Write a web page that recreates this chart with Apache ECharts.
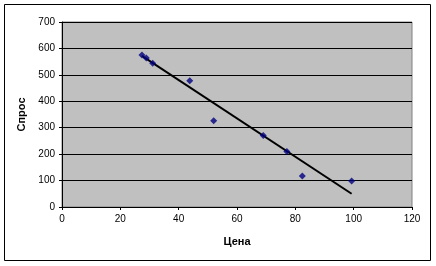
<!DOCTYPE html>
<html><head><meta charset="utf-8">
<script src="https://cdn.jsdelivr.net/npm/echarts@6/dist/echarts.min.js"></script>
<style>html,body{margin:0;padding:0;background:#fff}#c{width:436px;height:266px}</style>
</head><body><div id="c"></div>
<script>
const price = [27.4, 28.9, 31.1, 43.8, 52.0, 69.0, 77.1, 82.4, 99.3];
const demand = [575, 564, 544, 478, 326, 271, 210, 117, 98];
const trendX = [27.4, 99.3];
const trendY = [572, 50];
const xTicks = [0, 20, 40, 60, 80, 100, 120];
const yTicks = [0, 100, 200, 300, 400, 500, 600, 700];

const chart = echarts.init(document.getElementById('c'), null, {renderer: 'canvas'});
const font = 'Liberation Sans, Arial, sans-serif';
chart.setOption({
  animation: false,
  backgroundColor: '#fff',
  graphic: [{type: 'rect', shape: {x: 4.5, y: 4.5, width: 426, height: 256}, style: {fill: 'none', stroke: '#000', lineWidth: 1}, z: -1}],
  grid: {left: 62, top: 22, right: 24, bottom: 59, show: true, backgroundColor: '#C0C0C0', borderColor: '#808080', borderWidth: 1},
  xAxis: {
    type: 'value', min: 0, max: 120, interval: 20,
    name: 'Цена', nameLocation: 'middle', nameGap: 29,
    nameTextStyle: {fontFamily: font, fontSize: 11, fontWeight: 'bold', color: '#000'},
    axisLine: {show: true, onZero: false, lineStyle: {color: '#000', width: 1}},
    axisTick: {show: true, length: 3, lineStyle: {color: '#000'}},
    axisLabel: {fontFamily: font, fontSize: 10, color: '#000', margin: 7},
    splitLine: {show: false}
  },
  yAxis: {
    type: 'value', min: 0, max: 700, interval: 100,
    name: 'Спрос', nameLocation: 'middle', nameGap: 33,
    nameTextStyle: {fontFamily: font, fontSize: 11, fontWeight: 'bold', color: '#000'},
    axisLine: {show: true, lineStyle: {color: '#000', width: 1}},
    axisTick: {show: true, length: 3, lineStyle: {color: '#000'}},
    axisLabel: {fontFamily: font, fontSize: 10, color: '#000', margin: 7},
    splitLine: {show: true, lineStyle: {color: '#000', width: 1}}
  },
  series: [
    {type: 'line', data: trendX.map((x, i) => [x, trendY[i]]), symbol: 'none',
     lineStyle: {color: '#000', width: 2}, z: 2},
    {type: 'scatter', data: price.map((x, i) => [x, demand[i]]), symbol: 'diamond', symbolSize: 7,
     itemStyle: {color: '#000080'}, z: 3}
  ]
});
</script></body></html>
